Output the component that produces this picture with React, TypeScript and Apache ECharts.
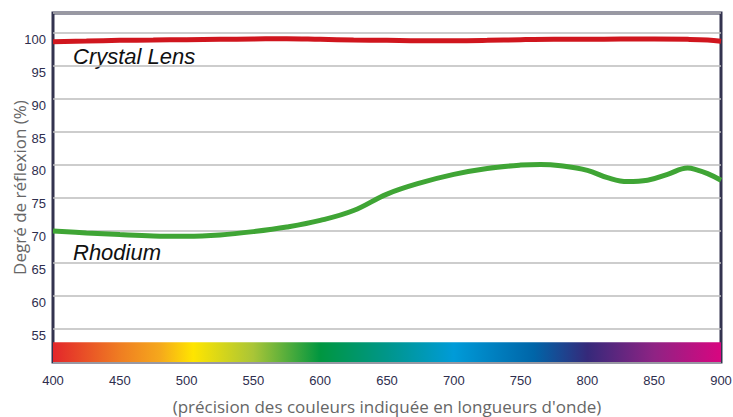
import React, { useEffect, useRef } from "react";
import * as echarts from "echarts";

const wavelengthsCrystal = [400, 425, 450, 475, 500, 525, 550, 575, 600, 625, 650, 675, 700, 725, 750, 775, 800, 825, 850, 875, 890, 900];
const crystalValues = [98.65, 98.75, 98.85, 98.9, 98.95, 99.0, 99.05, 99.1, 99.0, 98.9, 98.85, 98.8, 98.8, 98.85, 98.95, 99.0, 99.0, 99.05, 99.05, 99.0, 98.9, 98.7];

const wavelengthsRhodium = [400, 425, 450, 475, 500, 525, 550, 575, 600, 625, 650, 675, 700, 725, 750, 765, 780, 800, 815, 830, 845, 860, 875, 880, 890, 900];
const rhodiumValues = [69.9, 69.6, 69.35, 69.15, 69.1, 69.3, 69.8, 70.5, 71.5, 73.0, 75.5, 77.2, 78.5, 79.4, 79.9, 80.0, 79.8, 79.1, 78.0, 77.4, 77.6, 78.5, 79.45, 79.3, 78.6, 77.6];

const xTicks = { min: 400, max: 900, interval: 50 };
const yTicks = { min: 50, max: 103, interval: 5 };
const spectrumBand = [50, 53];
const spectrumStops = [
  [0, "#e3262b"],
  [0.1, "#ef7d22"],
  [0.16, "#f5a81c"],
  [0.21, "#ffe500"],
  [0.3, "#a9c537"],
  [0.4, "#009640"],
  [0.5, "#00968a"],
  [0.6, "#009bd8"],
  [0.72, "#0065a8"],
  [0.8, "#35297a"],
  [0.9, "#8f2384"],
  [1, "#d80680"],
];
const seriesNames = ["Crystal Lens", "Rhodium"];

export default function App() {
  const ref = useRef<HTMLDivElement>(null);
  useEffect(() => {
    if (!ref.current) return;
    const chart = echarts.init(ref.current, null, { renderer: "svg" });
    const labelColor = "#2e2e4e";
    chart.setOption({
      animation: false,
      grid: {
        left: 53,
        right: 12,
        top: 13,
        bottom: 55,
        containLabel: false,
        outerBoundsMode: "none",
        show: true,
        borderColor: "#33334f",
        borderWidth: 3,
        backgroundColor: "transparent",
      },
      xAxis: {
        type: "value",
        min: xTicks.min,
        max: xTicks.max,
        interval: xTicks.interval,
        name: "(précision des couleurs indiquée en longueurs d'onde)",
        nameLocation: "middle",
        nameGap: 36,
        nameTextStyle: { color: "#666666", fontSize: 17, fontFamily: "Open Sans" },
        axisLine: { show: false },
        axisTick: { show: false },
        splitLine: { show: false },
        axisLabel: { color: labelColor, fontSize: 13, fontFamily: "Liberation Sans", margin: 12 },
      },
      yAxis: {
        type: "value",
        min: yTicks.min,
        max: yTicks.max,
        interval: yTicks.interval,
        name: "Degré de réflexion (%)",
        nameLocation: "middle",
        nameGap: 25,
        nameMoveOverlap: false,
        nameTextStyle: { color: "#666666", fontSize: 17, fontFamily: "Open Sans" },
        axisLine: { show: false },
        axisTick: { show: false },
        splitLine: { show: true, lineStyle: { color: "#bdbdbd", width: 1.5 } },
        axisLabel: {
          color: labelColor,
          fontSize: 13,
          fontFamily: "Liberation Sans",
          margin: 7,
          verticalAlign: "top",
          formatter: (v: number) => (v % 5 === 0 && v >= 55 && v <= 100 ? String(v) : ""),
        },
      },
      graphic: [
        {
          type: "text",
          left: 73,
          top: 45,
          style: { text: seriesNames[0], fontSize: 22, fontStyle: "italic", fontFamily: "Liberation Sans", fill: "#111" },
        },
        {
          type: "text",
          left: 73,
          top: 241,
          style: { text: seriesNames[1], fontSize: 22, fontStyle: "italic", fontFamily: "Liberation Sans", fill: "#111" },
        },
      ],
      series: [
        {
          name: "spectrum",
          type: "line",
          data: [],
          markArea: {
            silent: true,
            itemStyle: {
              opacity: 1,
              color: new echarts.graphic.LinearGradient(
                0, 0, 1, 0,
                spectrumStops.map(([offset, color]) => ({ offset: offset as number, color: color as string }))
              ),
            },
            data: [[{ xAxis: xTicks.min, yAxis: spectrumBand[0] }, { xAxis: xTicks.max, yAxis: spectrumBand[1] }]],
          },
        },
        {
          name: seriesNames[0],
          type: "line",
          smooth: 0.4,
          showSymbol: false,
          lineStyle: { color: "#d0161e", width: 5 },
          data: wavelengthsCrystal.map((w, i) => [w, crystalValues[i]]),
        },
        {
          name: seriesNames[1],
          type: "line",
          smooth: 0.4,
          showSymbol: false,
          lineStyle: { color: "#3fa535", width: 5 },
          data: wavelengthsRhodium.map((w, i) => [w, rhodiumValues[i]]),
        },
      ],
    });
    return () => chart.dispose();
  }, []);
  return <div ref={ref} style={{ width: 733, height: 417, position: "absolute", left: 0, top: 0 }} />;
}
